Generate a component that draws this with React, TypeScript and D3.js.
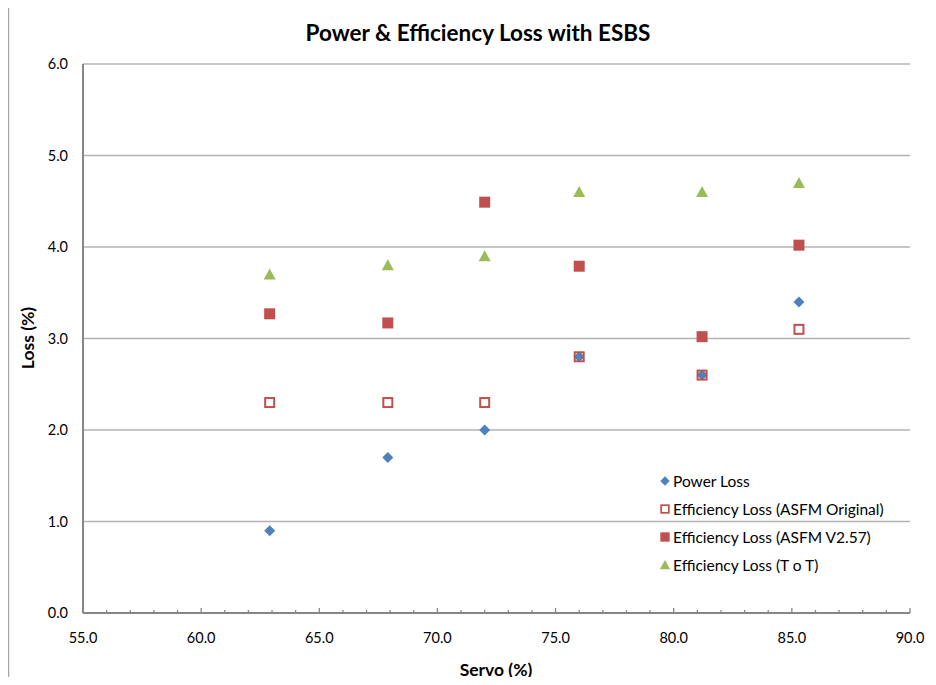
import { useRef, useEffect } from 'react'
import * as d3 from 'd3'

const servo = [62.9, 67.9, 72.0, 76.0, 81.2, 85.3]
const powerLoss = [0.9, 1.7, 2.0, 2.8, 2.6, 3.4]
const effOriginal = [2.3, 2.3, 2.3, 2.8, 2.6, 3.1]
const effV257 = [3.27, 3.17, 4.49, 3.79, 3.02, 4.02]
const effToT = [3.7, 3.8, 3.9, 4.6, 4.6, 4.7]

const xTicks = [55, 60, 65, 70, 75, 80, 85, 90]
const yTicks = [0, 1, 2, 3, 4, 5, 6]

const series = [
  { name: 'Power Loss', values: powerLoss, shape: 'diamond', color: '#4f81bd', hollow: false },
  { name: 'Efficiency Loss (ASFM Original)', values: effOriginal, shape: 'square', color: '#c0504d', hollow: true },
  { name: 'Efficiency Loss (ASFM V2.57)', values: effV257, shape: 'square', color: '#c0504d', hollow: false },
  { name: 'Efficiency Loss (T o T)', values: effToT, shape: 'triangle', color: '#9bbb59', hollow: false },
]

const font = 'Lato, "Open Sans", sans-serif'

function drawMarker(sel: d3.Selection<SVGGElement, unknown, null, undefined>, shape: string, color: string, hollow: boolean) {
  if (shape === 'diamond') {
    sel.append('path').attr('d', 'M0,-5.5L5.5,0L0,5.5L-5.5,0Z').attr('fill', color)
  } else if (shape === 'square') {
    if (hollow) {
      sel.append('rect').attr('x', -4.5).attr('y', -4.5).attr('width', 9).attr('height', 9)
        .attr('fill', 'none').attr('stroke', color).attr('stroke-width', 2)
    } else {
      sel.append('rect').attr('x', -5.5).attr('y', -5.5).attr('width', 11).attr('height', 11).attr('fill', color)
    }
  } else {
    sel.append('path').attr('d', 'M0,-6L6,5L-6,5Z').attr('fill', color)
  }
}

export default function App() {
  const svgRef = useRef<SVGSVGElement>(null)
  const width = 936
  const height = 685

  useEffect(() => {
    if (!svgRef.current) return
    const svg = d3.select(svgRef.current)
    svg.selectAll('*').remove()

    const margin = { top: 64, right: 26, bottom: 72, left: 83 }
    const innerWidth = width - margin.left - margin.right
    const innerHeight = height - margin.top - margin.bottom

    // chart border (only top and left edges are in frame)
    svg.append('path').attr('d', `M8.5,${height}V4.5H${width}`)
      .attr('fill', 'none').attr('stroke', '#a6a6a6').attr('stroke-width', 1.5)

    svg.append('text').attr('x', 478).attr('y', 41).attr('text-anchor', 'middle')
      .attr('font-family', font).attr('font-weight', 'bold').attr('font-size', '22.5px').attr('fill', '#000')
      .text('Power & Efficiency Loss with ESBS')

    const g = svg.append('g').attr('transform', `translate(${margin.left},${margin.top})`)

    const xScale = d3.scaleLinear().domain([55, 90]).range([0, innerWidth])
    const yScale = d3.scaleLinear().domain([0, 6]).range([innerHeight, 0])

    // gridlines
    g.selectAll('.grid').data(yTicks.filter((t) => t > 0)).join('line')
      .attr('x1', 0).attr('x2', innerWidth)
      .attr('y1', (d) => yScale(d)).attr('y2', (d) => yScale(d))
      .attr('stroke', '#b3b3b3').attr('stroke-width', 1.3)

    // y axis
    g.append('line').attr('x1', 0).attr('x2', 0).attr('y1', 0).attr('y2', innerHeight)
      .attr('stroke', '#868686').attr('stroke-width', 2)
    g.selectAll('.ylab').data(yTicks).join('text')
      .attr('x', -15).attr('y', (d) => yScale(d) + 5).attr('text-anchor', 'end')
      .attr('font-family', font).attr('font-size', '14.5px').attr('fill', '#000')
      .text((d) => d.toFixed(1))

    // x axis
    const minor = d3.range(55, 91, 1)
    g.selectAll('.xtick').data(minor).join('line')
      .attr('x1', (d) => xScale(d)).attr('x2', (d) => xScale(d))
      .attr('y1', innerHeight).attr('y2', (d) => innerHeight - (d % 5 === 0 ? 5 : 3))
      .attr('stroke', '#868686').attr('stroke-width', 1.3)
    g.append('line').attr('x1', 0).attr('x2', innerWidth).attr('y1', innerHeight).attr('y2', innerHeight)
      .attr('stroke', '#868686').attr('stroke-width', 2)
    g.selectAll('.xlab').data(xTicks).join('text')
      .attr('x', (d) => xScale(d)).attr('y', innerHeight + 30).attr('text-anchor', 'middle')
      .attr('font-family', font).attr('font-size', '14.5px').attr('fill', '#000')
      .text((d) => d.toFixed(1))

    // axis titles
    svg.append('text').attr('x', 496).attr('y', 676).attr('text-anchor', 'middle')
      .attr('font-family', font).attr('font-weight', 'bold').attr('font-size', '17.5px').text('Servo (%)')
    svg.append('text').attr('transform', 'translate(34,338) rotate(-90)').attr('text-anchor', 'middle')
      .attr('font-family', font).attr('font-weight', 'bold').attr('font-size', '17.5px').text('Loss (%)')

    // points
    for (const s of series) {
      s.values.forEach((v, i) => {
        const m = g.append('g').attr('transform', `translate(${xScale(servo[i])},${yScale(v)})`)
        drawMarker(m, s.shape, s.color, s.hollow)
      })
    }

    // legend
    const legend = svg.append('g').attr('transform', 'translate(665,481)')
    series.forEach((s, i) => {
      const row = legend.append('g').attr('transform', `translate(0,${i * 28})`)
      const m = row.append('g')
      drawMarker(m, s.shape, s.color, s.hollow)
      m.attr('transform', 'scale(0.85)')
      row.append('text').attr('x', 8).attr('y', 5.5).attr('font-family', font).attr('font-size', '15.5px')
        .attr('fill', '#000').text(s.name)
    })
  }, [])

  return <svg ref={svgRef} width={width} height={height} style={{ display: 'block', margin: '-8px' }} />
}
